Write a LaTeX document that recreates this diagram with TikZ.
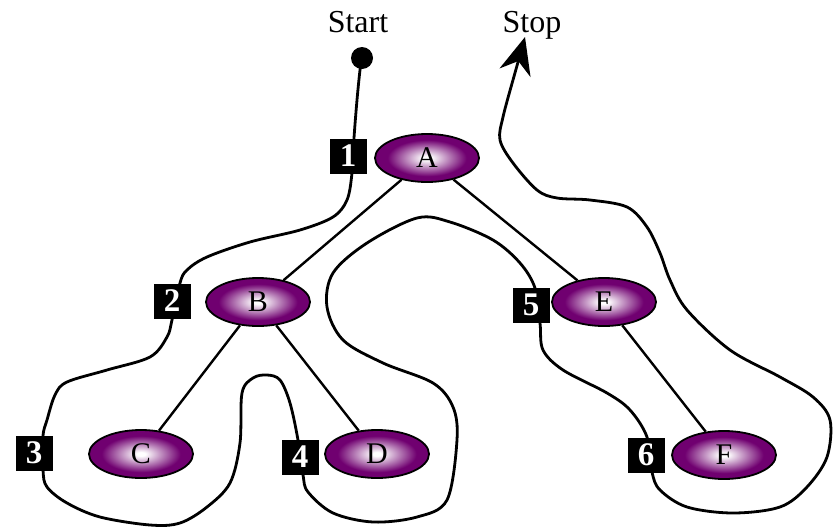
\documentclass[tikz,border=0pt]{standalone}
\usepackage{fontspec}
\setmainfont{Liberation Serif}
\usetikzlibrary{shapes.geometric,arrows.meta}
\definecolor{nodepurple}{RGB}{112,0,112}
\pgfdeclareradialshading{nodeshade}{\pgfpoint{0bp}{0bp}}{color(0bp)=(white); color(2bp)=(white); color(19bp)=(nodepurple); color(50bp)=(nodepurple)}
\begin{document}
\begin{tikzpicture}[x=1pt,y=-1pt,
    treenode/.style={ellipse, draw, line width=1.8pt, shading=nodeshade,
        minimum width=104pt, minimum height=48pt, inner sep=0pt,
        font=\fontsize{30}{30}\selectfont},
    numbox/.style={fill=black, text=white, minimum width=37pt, minimum height=35pt,
        inner sep=0pt, font=\fontsize{33}{33}\selectfont\bfseries},
    edge/.style={line width=2.4pt},
    walk/.style={line width=2.8pt}]
    \useasboundingbox (0,0) rectangle (836,528);

    \coordinate (startpt) at (362,58);
    \coordinate (stopend) at (525,37);

    % the walk round the tree
    \draw[walk] plot[smooth, tension=0.55] coordinates {
        (startpt) (360,70) (357,100) (354,138) (352,173) (347,200) (333,217)
        (300,230) (250,242) (207,257) (187,270) (180,283) (172,320) (167,337)
        (150,357) (107,370) (67,382) (55,395) (47,420) (43,436) (43,470)
        (47,487) (67,503) (100,517) (150,525) (180,523) (207,507) (230,483)
        (240,443) (242,393) (253,378) (267,375) (280,380) (290,403) (298,440)
        (303,475) (308,492) (333,513) (373,522) (417,517) (447,500) (457,440)
        (453,407) (433,383) (383,363) (343,340) (327,307) (333,273) (367,243)
        (417,218) (450,222) (493,240) (520,263) (535,288) (540,323) (543,350)
        (563,370) (607,393) (630,410) (647,437) (652,472) (660,490) (687,507)
        (733,513) (780,507) (807,487) (827,457) (830,420) (813,397) (780,377)
        (730,350) (687,310) (670,280) (660,253) (647,227) (627,207) (590,200)
        (557,198) (537,190) (513,163) (500,140) (503,117) (513,80)};
    \draw[walk, -{Stealth[length=37pt,width=32pt]}] (513,80) -- (stopend);

    \node[circle, fill=black, minimum size=22pt, inner sep=0pt] (st) at (startpt) {};
    \node[anchor=base, font=\fontsize{32}{32}\selectfont] (starttext) at (358,32) {Start};
    \node[anchor=base, font=\fontsize{32}{32}\selectfont] (stoptext) at (532,32) {Stop};

    \node[treenode] (A) at (427,158) {A};
    \node[treenode] (B) at (258,302) {B};
    \node[treenode] (C) at (141,454) {C};
    \node[treenode] (D) at (377,454) {D};
    \node[treenode] (E) at (604,302) {E};
    \node[treenode] (F) at (724,455) {F};

    \draw[edge] (A) -- (B);
    \draw[edge] (A) -- (E);
    \draw[edge] (B) -- (C);
    \draw[edge] (B) -- (D);
    \draw[edge] (E) -- (F);

    \node[numbox] (n1) at (348,156) {1};
    \node[numbox] (n2) at (172,301) {2};
    \node[numbox] (n3) at (34,453) {3};
    \node[numbox] (n4) at (300,457) {4};
    \node[numbox] (n5) at (531,305) {5};
    \node[numbox] (n6) at (646,455) {6};
\end{tikzpicture}
\end{document}
